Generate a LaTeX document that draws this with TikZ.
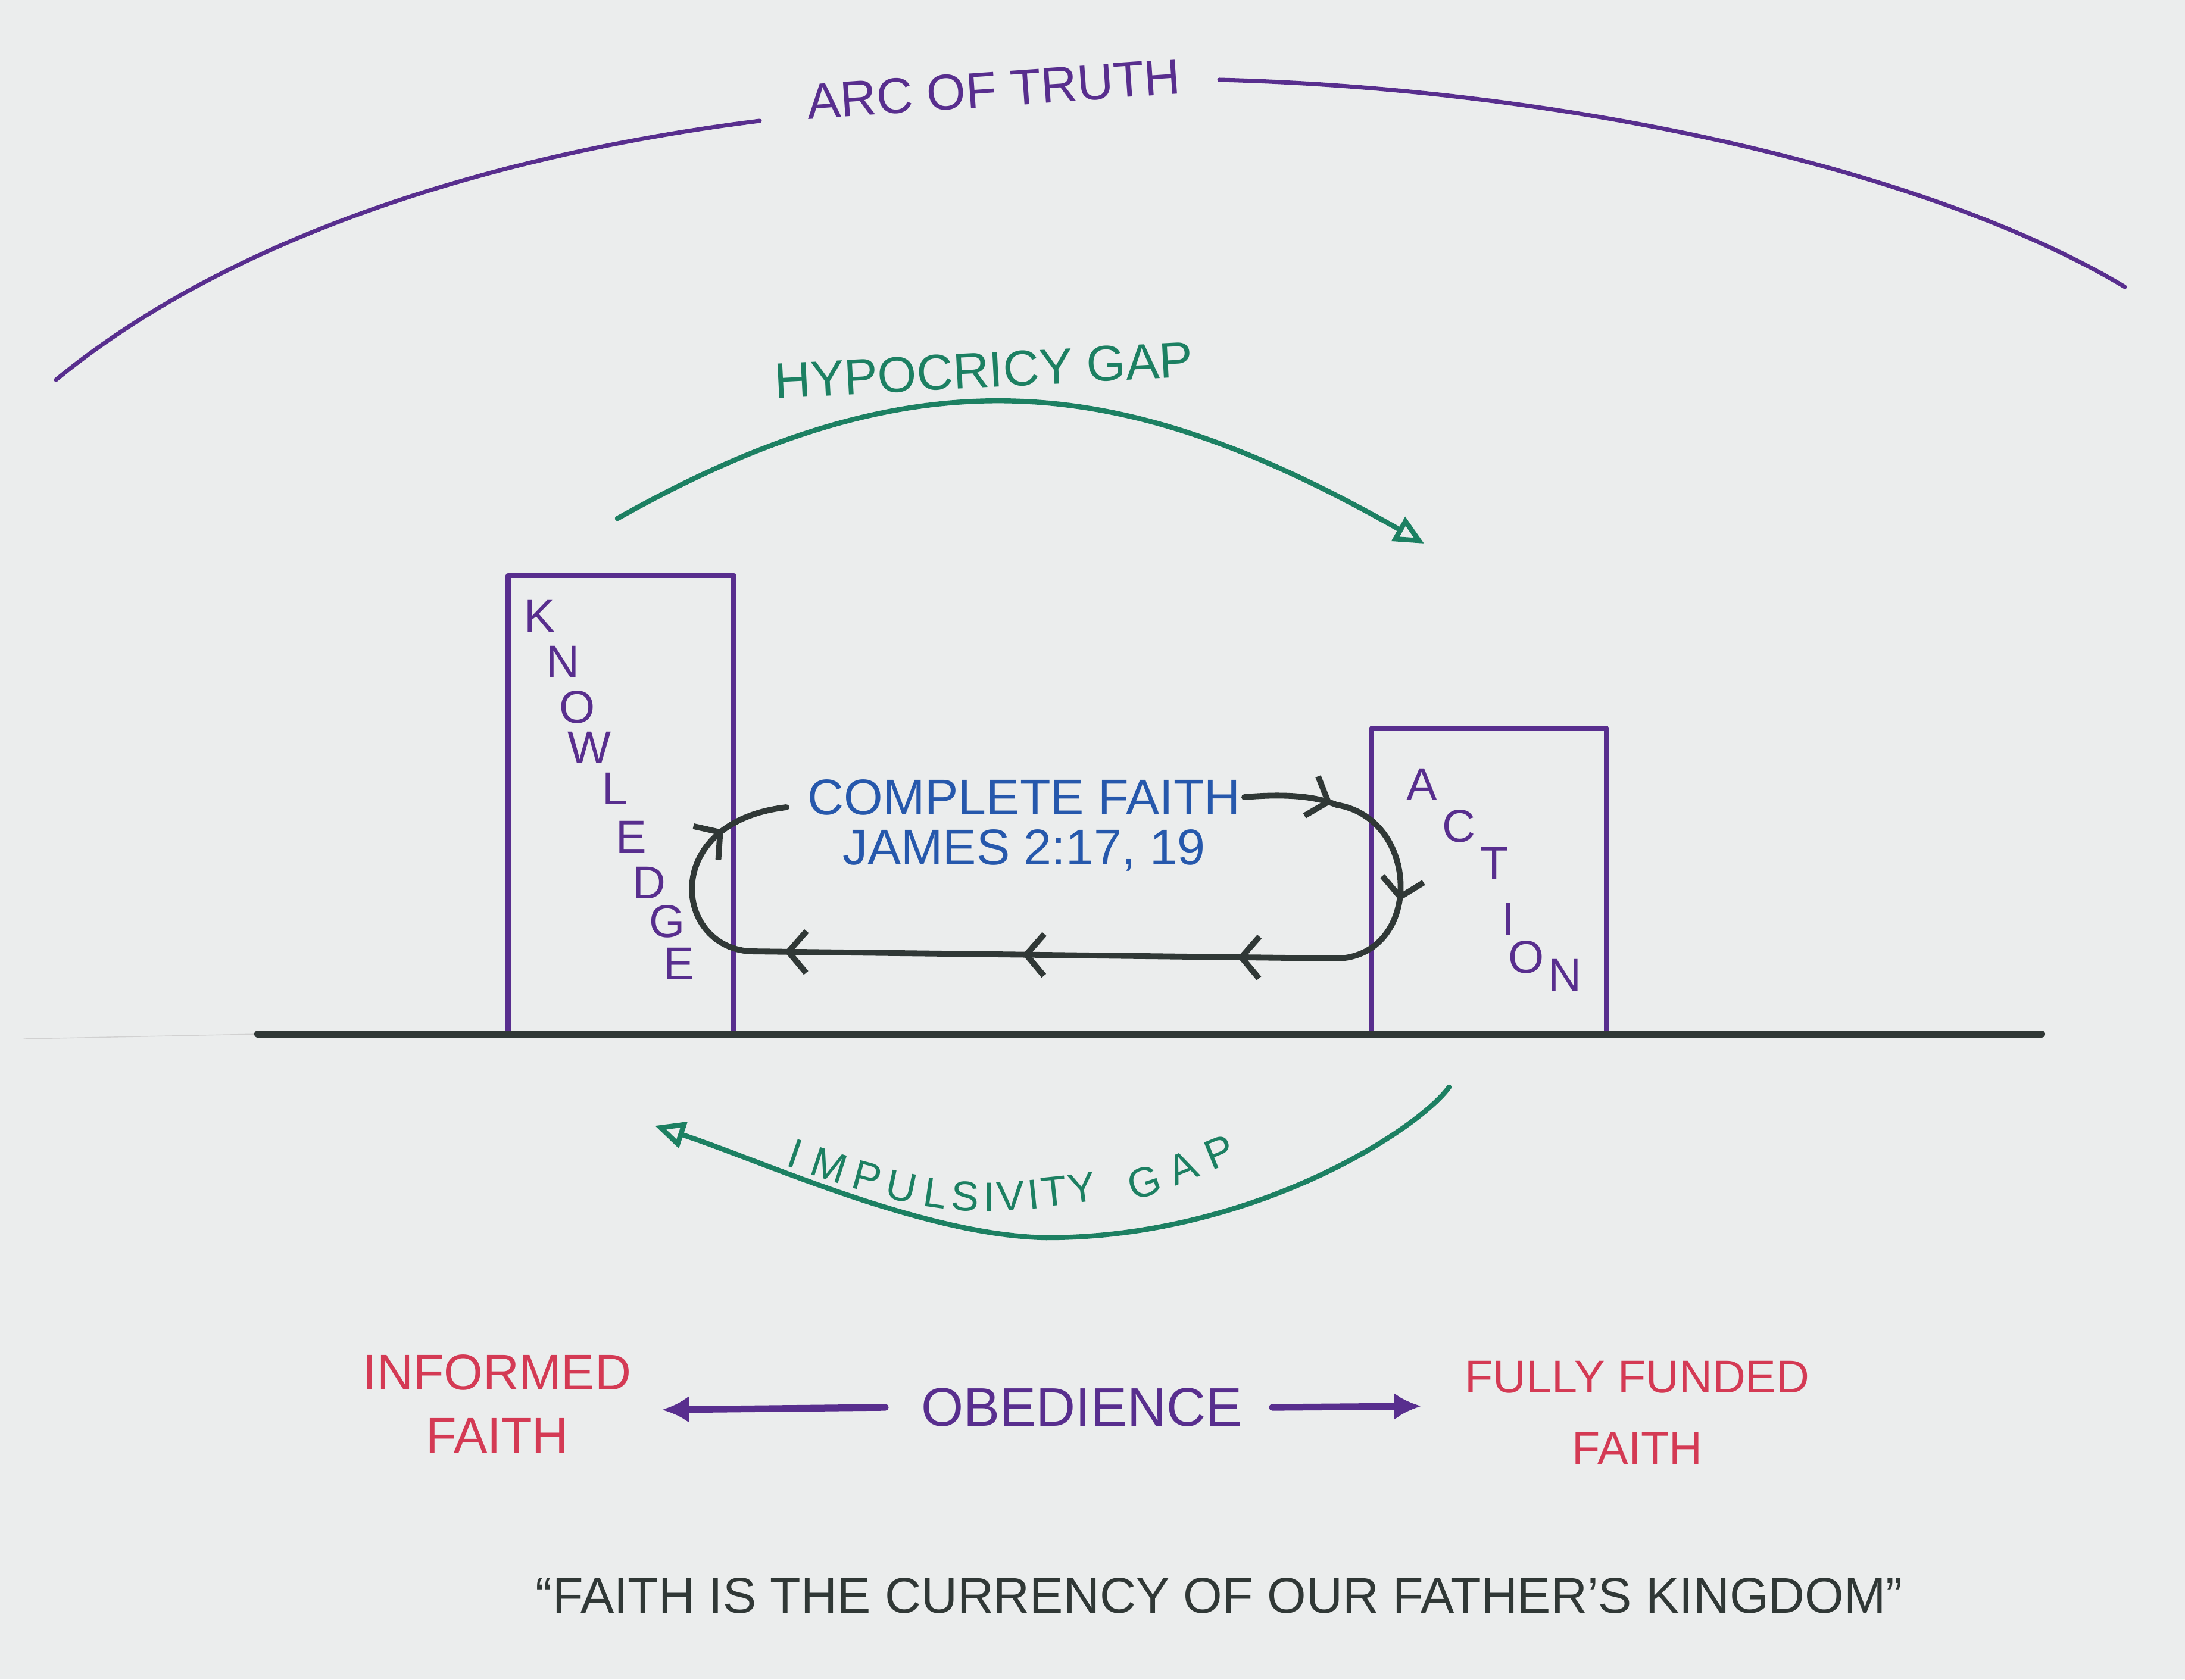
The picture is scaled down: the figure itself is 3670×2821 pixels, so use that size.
\documentclass[tikz,border=0pt]{standalone}
\usepackage{fontspec}
\setmainfont{Liberation Sans}
\usepackage{tikz}
\usetikzlibrary{arrows.meta}
\usetikzlibrary{decorations.markings}
\definecolor{paper}{RGB}{235,237,237}
\definecolor{inkpurple}{RGB}{88,46,142}
\definecolor{inkgreen}{RGB}{28,128,98}
\definecolor{inkblue}{RGB}{38,88,172}
\definecolor{inkred}{RGB}{212,58,84}
\definecolor{inkblack}{RGB}{48,56,54}
\def\groundy{1737}
\def\hand{\fontsize{24}{24}\selectfont}

\begin{document}
\begin{tikzpicture}[x=0.01cm, y=-0.01cm, line cap=round, line join=round,
	label/.style={font=\hand, inner sep=0pt},
	pillar/.style={draw=inkpurple, line width=2.4pt, inner sep=0pt},
	letter/.style={font=\fontsize{22}{22}\selectfont, text=inkpurple, inner sep=0pt},
	curvy/.style={font=\fontsize{20}{20}\selectfont, text=inkgreen, inner sep=0pt},
	gaparrow/.style={draw=inkgreen, line width=2.4pt, -{Triangle[open, length=0.5cm, width=0.45cm]}},
	faithloop/.style={draw=inkblack, line width=2.8pt, postaction={decorate},
		decoration={markings,
			mark=at position 0.078 with {\arrow{Straight Barb[length=0.3cm, width=0.7cm]}},
			mark=at position 0.195 with {\arrow{Straight Barb[length=0.3cm, width=0.7cm]}},
			mark=at position 0.365 with {\arrow{Straight Barb[length=0.3cm, width=0.7cm]}},
			mark=at position 0.555 with {\arrow{Straight Barb[length=0.3cm, width=0.7cm]}},
			mark=at position 0.765 with {\arrow{Straight Barb[length=0.3cm, width=0.7cm]}},
			mark=at position 0.94 with {\arrow{Straight Barb[length=0.3cm, width=0.7cm]}}}},
	obey/.style={draw=inkpurple, line width=3.2pt, -{Latex[length=0.45cm, width=0.45cm]}}]
	\fill[paper] (0,0) rectangle (3670,2821);
	\useasboundingbox (0,0) rectangle (3670,2821);

	% arc of truth
	\node[label, text=inkpurple, rotate=4] (truth) at (1669,150) {ARC OF TRUTH};
	\coordinate (truthW) at (94,638);
	\coordinate (truthWi) at (1276,203);
	\coordinate (truthEi) at (2048,134);
	\coordinate (truthE) at (3569,482);
	\draw[inkpurple, line width=2pt] (truthW) .. controls (420,370) and (900,250) .. (truthWi);
	\draw[inkpurple, line width=2pt] (truthEi) .. controls (2650,150) and (3250,290) .. (truthE);

	% hypocricy gap
	\node[label, text=inkgreen, rotate=3] (hypo) at (1652,622) {HYPOCRICY GAP};
	\coordinate (hypoS) at (1037,871);
	\coordinate (hypoE) at (2392,913);
	\draw[gaparrow] (hypoS) .. controls (1545,585) and (1884,625) .. (hypoE);

	% pillars and ground
	\node[pillar, minimum width=3.79cm, minimum height=7.70cm] (knowledge) at (1043,1352) {};
	\node[pillar, minimum width=3.94cm, minimum height=5.13cm] (action) at (2501,1480) {};
	\coordinate (groundW) at (433,\groundy);
	\coordinate (groundE) at (3429,\groundy);
	\coordinate (pencilW) at (40,1745);
	\draw[black!18, line width=0.4pt] (pencilW) -- (groundW);
	\draw[inkblack, line width=3.4pt] (groundW) -- (groundE);

	\foreach \l/\x/\y [count=\i] in {K/906/1035, N/945/1112, O/970/1188, W/990/1256, L/1033/1325,
		E/1060/1406, D/1090/1483, G/1121/1548, E/1140/1619}
		\node[letter] (k\i) at (\x,\y) {\l};
	\foreach \l/\x/\y [count=\i] in {A/2388/1318, C/2450/1388, T/2510/1450, I/2533/1544,
		O/2564/1608, N/2628/1638}
		\node[letter] (a\i) at (\x,\y) {\l};

	% complete faith loop
	\node[label, text=inkblue] (complete) at (1720,1339) {COMPLETE FAITH};
	\node[label, text=inkblue] (james) at (1720,1428) {JAMES 2:17, 19};
	\coordinate (loopS) at (2090,1339);
	\coordinate (loopE) at (1321,1356);
	\draw[faithloop] (loopS) .. controls (2170,1332) and (2215,1340) .. (2245,1352)
		.. controls (2385,1375) and (2390,1600) .. (2250,1610) -- (1260,1598)
		.. controls (1130,1590) and (1110,1380) .. (loopE);

	% impulsivity gap
	\coordinate (impS) at (2434,1826);
	\coordinate (impB) at (1757,2079);
	\coordinate (impE) at (1100,1891);
	\draw[gaparrow] (impS) .. controls (2380,1900) and (2100,2079) .. (impB)
		.. controls (1550,2075) and (1280,1950) .. (impE);
	\foreach \l/\x/\y/\r [count=\i] in {I/1336/1938/-19, M/1393/1958/-18, P/1456/1977/-15,
		U/1514/1993/-12, L/1571/2004/-8, S/1621/2010/-3, I/1661/2011/0, V/1698/2009/3,
		I/1736/2006/6, T/1770/2001/6, Y/1817/1995/8, G/1922/1986/18, A/1986/1961/22,
		P/2048/1935/22}
		\node[curvy, rotate=\r] (imp\i) at (\x,\y) {\l};

	% obedience
	\node[label, text=inkred, align=center] (informed) at (835,2358) {INFORMED\\[6pt]FAITH};
	\node[label, text=inkpurple, font=\fontsize{26}{26}\selectfont] (obedience) at (1817,2364) {OBEDIENCE};
	\node[label, text=inkred, align=center, font=\fontsize{22}{22}\selectfont] (funded) at (2750,2373) {FULLY FUNDED\\[12pt]FAITH};
	\coordinate (obeyW) at (1112,2368);
	\coordinate (obeyE) at (2387,2362);
	\draw[obey] ([xshift=-0.6cm]obedience.west) -- (obeyW);
	\draw[obey] ([xshift=0.5cm]obedience.east) -- (obeyE);

	\node[label, text=inkblack, font=\fontsize{24}{24}\selectfont] (quote) at (2048,2680) {``FAITH IS THE CURRENCY OF OUR FATHER'S KINGDOM''};
\end{tikzpicture}
\end{document}
